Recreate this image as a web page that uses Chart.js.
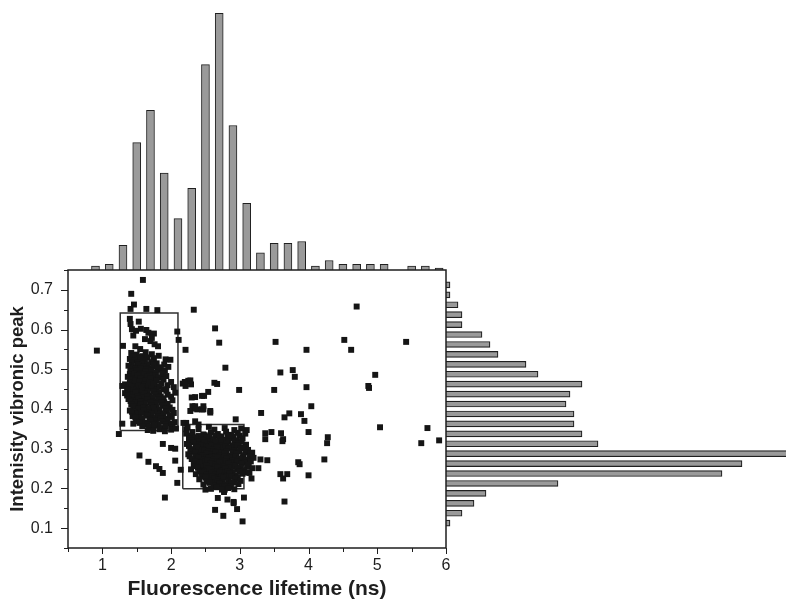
<!DOCTYPE html>
<html>
<head>
<meta charset="utf-8">
<script src="https://cdn.jsdelivr.net/npm/chart.js@4.4.1/dist/chart.umd.min.js"></script>
<style>
  html, body { margin: 0; padding: 0; background: #ffffff; }
  #wrap { position: relative; width: 786px; height: 600px; }
  #wrap canvas { position: absolute; left: 0; top: 0; }
</style>
</head>
<body>
<div id="wrap">
  <canvas id="topHist" width="786" height="600"></canvas>
  <canvas id="rightHist" width="786" height="600"></canvas>
  <canvas id="main" width="786" height="600"></canvas>
</div>
<script>
// ---------------- DATA ----------------
const xTitle = 'Fluorescence lifetime (ns)';
const yTitle = 'Intenisity vibronic peak';

// top histogram (fluorescence lifetime, bin centres in ns, counts)
const lifetimeBins   = [0.9, 1.1, 1.3, 1.5, 1.7, 1.9, 2.1, 2.3, 2.5, 2.7, 2.9, 3.1, 3.3, 3.5, 3.7, 3.9, 4.1, 4.3, 4.5, 4.7, 4.9, 5.1, 5.5, 5.7, 5.9];
const lifetimeCounts = [2,   3,   13,  67,  84,  51,  27,  43,  108, 135, 76,  35,  9,   14,  14,  15,  2,   5,   3,   3,   3,   3,   2,   2,   1];

// right histogram (intensity vibronic peak, bin centres, counts)
const intensityBins   = [0.7125, 0.6875, 0.6625, 0.6375, 0.6125, 0.5875, 0.5625, 0.5375, 0.5125, 0.4875, 0.4625, 0.4375, 0.4125, 0.3875, 0.3625, 0.3375, 0.3125, 0.2875, 0.2625, 0.2375, 0.2125, 0.1875, 0.1625, 0.1375, 0.1125];
const intensityCounts = [1, 1, 3, 4, 4, 9, 11, 13, 20, 23, 34, 31, 30, 32, 32, 34, 38, 88, 74, 69, 28, 10, 7, 4, 1];

// gating rectangles [xMin, xMax, yMin, yMax]
const gate1 = [1.26, 2.10, 0.346, 0.642];
const gate2 = [2.17, 3.06, 0.199, 0.361];

// sparse / outlying points [lifetime, intensity]
const sparsePoints = [
  [0.92,0.547],[1.59,0.725],[1.42,0.690],[1.46,0.663],[1.41,0.652],[1.64,0.652],[1.80,0.649],[2.33,0.650],
  [2.64,0.603],[2.70,0.567],[3.52,0.569],[3.97,0.549],[4.70,0.658],[4.52,0.574],[4.62,0.549],[5.42,0.569],
  [2.79,0.504],[3.59,0.492],[3.77,0.498],[3.80,0.481],[4.97,0.486],[2.63,0.466],[2.67,0.463],[2.54,0.443],
  [2.48,0.433],[2.35,0.430],[2.99,0.448],[3.50,0.448],[3.97,0.455],[4.87,0.458],[4.88,0.453],[4.04,0.407],
  [3.31,0.390],[3.65,0.379],[3.72,0.389],[3.89,0.387],[3.94,0.370],[4.00,0.342],[5.04,0.354],[5.73,0.352],
  [5.64,0.314],[5.90,0.321],[3.37,0.339],[3.46,0.342],[3.37,0.324],[3.60,0.339],[3.63,0.324],[3.62,0.319],
  [4.28,0.329],[4.27,0.314],[3.30,0.273],[3.40,0.271],[3.27,0.251],[4.23,0.273],[3.85,0.266],[3.87,0.261],
  [3.59,0.236],[3.69,0.236],[3.63,0.225],[4.00,0.233],[3.65,0.167],[2.21,0.549],[2.09,0.595],[2.11,0.574],
  [1.30,0.559],[1.54,0.283],[1.67,0.267],[1.78,0.256],[1.83,0.249],[1.88,0.239],[1.88,0.312],[2.00,0.302],
  [2.06,0.270],[2.09,0.214],[1.91,0.177],[1.24,0.337],[1.29,0.363],[1.45,0.363],[2.64,0.146],[2.76,0.131],
  [3.04,0.117],[2.96,0.148],[2.68,0.176],[2.82,0.172],[2.91,0.166],[3.06,0.177],[2.77,0.191],[3.11,0.255],
  [3.14,0.239],[3.17,0.225],[3.18,0.290],[3.10,0.347],[2.94,0.374],[2.25,0.471],[2.29,0.462],[2.17,0.464],
  [2.31,0.407],[2.38,0.399],[2.47,0.399],[2.57,0.391],[2.22,0.365],[2.22,0.349],[2.50,0.197],[2.78,0.197],
  [2.91,0.163],[2.06,0.300],[2.14,0.247],[2.28,0.395],[2.35,0.401],[2.45,0.399],[2.57,0.395],[2.20,0.468],
  [2.28,0.472],[2.21,0.458],[2.30,0.429],[2.45,0.433],[2.35,0.407],[2.47,0.407],[2.18,0.365],[2.35,0.369],
  [2.40,0.361]
];

// dense group around 1.7 ns
const cluster1Points = [
  [1.40,0.627],[1.41,0.614],[1.53,0.620],[1.43,0.601],[1.49,0.597],[1.56,0.602],[1.64,0.599],[1.67,0.592],
  [1.75,0.590],[1.72,0.579],[1.62,0.576],[1.70,0.571],[1.76,0.563],[1.81,0.558],[1.48,0.558],[1.55,0.551],
  [1.63,0.543],[1.72,0.538],[1.82,0.534],[1.92,0.525],[1.99,0.524],[1.45,0.585],
  [1.42,0.541],[1.50,0.537],[1.59,0.533],
  [1.46,0.533],[1.54,0.531],[1.66,0.530],[1.75,0.528],
  [1.40,0.526],[1.47,0.522],[1.55,0.528],[1.62,0.521],[1.71,0.518],[1.79,0.515],[1.90,0.512],
  [1.43,0.517],[1.51,0.516],[1.58,0.515],[1.66,0.512],[1.75,0.513],[1.85,0.505],
  [1.38,0.509],[1.45,0.505],[1.52,0.511],[1.60,0.507],[1.67,0.503],[1.75,0.508],[1.84,0.499],[1.96,0.506],
  [1.41,0.502],[1.48,0.501],[1.56,0.503],[1.64,0.500],[1.71,0.498],[1.80,0.502],[1.91,0.497],
  [1.41,0.494],[1.49,0.497],[1.56,0.490],[1.63,0.495],[1.70,0.488],[1.78,0.492],[1.88,0.486],
  [1.40,0.488],[1.47,0.489],[1.54,0.486],[1.61,0.488],[1.69,0.485],[1.77,0.484],[1.87,0.490],
  [1.37,0.481],[1.44,0.478],[1.51,0.484],[1.58,0.476],[1.65,0.481],[1.73,0.474],[1.82,0.479],[1.93,0.483],
  [1.41,0.475],[1.48,0.473],[1.55,0.476],[1.62,0.472],[1.70,0.477],[1.79,0.471],[1.89,0.474],
  [1.40,0.467],[1.47,0.463],[1.54,0.469],[1.61,0.461],[1.68,0.466],[1.76,0.459],[1.86,0.464],[2.00,0.468],
  [1.33,0.462],[1.40,0.460],[1.46,0.457],[1.53,0.460],[1.60,0.456],[1.67,0.458],[1.74,0.463],[1.83,0.456],[1.95,0.460],
  [1.29,0.458],[1.36,0.452],[1.43,0.455],[1.50,0.449],[1.57,0.453],[1.64,0.447],[1.71,0.452],[1.79,0.446],[1.89,0.450],[2.04,0.455],
  [1.38,0.448],[1.45,0.446],[1.52,0.444],[1.59,0.446],[1.66,0.443],[1.74,0.444],[1.83,0.442],[1.93,0.446],
  [1.33,0.440],[1.41,0.436],[1.48,0.441],[1.55,0.434],[1.62,0.439],[1.69,0.433],[1.77,0.437],[1.85,0.431],[1.95,0.436],[2.06,0.441],
  [1.36,0.434],[1.44,0.430],[1.51,0.432],[1.58,0.429],[1.66,0.431],[1.73,0.428],[1.81,0.430],[1.89,0.427],[2.00,0.431],
  [1.38,0.425],[1.45,0.421],[1.52,0.427],[1.59,0.420],[1.66,0.424],[1.74,0.418],[1.82,0.423],[1.90,0.417],[2.02,0.422],
  [1.41,0.420],[1.48,0.416],[1.55,0.418],[1.62,0.415],[1.70,0.417],[1.78,0.414],[1.86,0.416],[1.95,0.413],
  [1.42,0.411],[1.49,0.406],[1.56,0.412],[1.63,0.405],[1.71,0.409],[1.79,0.403],[1.88,0.408],[1.98,0.404],
  [1.45,0.407],[1.52,0.402],[1.60,0.404],[1.67,0.401],[1.75,0.403],[1.83,0.399],[1.92,0.401],[2.02,0.398],
  [1.40,0.396],[1.47,0.392],[1.60,0.397],[1.68,0.391],[1.76,0.395],[1.85,0.389],[1.94,0.394],[2.04,0.390],
  [1.43,0.393],[1.51,0.388],[1.57,0.390],[1.64,0.387],[1.72,0.388],[1.80,0.385],[1.89,0.387],[1.98,0.384],
  [1.44,0.382],[1.53,0.378],[1.66,0.383],[1.73,0.377],[1.81,0.381],[1.90,0.375],[2.01,0.380],
  [1.48,0.379],[1.58,0.375],[1.69,0.374],[1.77,0.372],[1.85,0.376],[1.95,0.371],
  [1.49,0.369],[1.62,0.366],[1.70,0.370],[1.78,0.364],[1.87,0.368],[1.97,0.363],[2.05,0.367],
  [1.54,0.365],[1.65,0.362],[1.74,0.361],[1.82,0.360],[1.92,0.362],[2.01,0.359],
  [1.58,0.357],[1.68,0.355],[1.76,0.358],[1.84,0.352],[1.92,0.356],[2.02,0.353],
  [1.66,0.347],[1.74,0.345],[1.83,0.349],[1.91,0.344],[2.00,0.348],[2.07,0.351]
];

// dense group around 2.7 ns
const cluster2Points = [
  [2.24,0.353],[2.40,0.349],[2.55,0.355],[2.63,0.348],[2.78,0.352],[2.92,0.347],[3.02,0.351],
  [2.22,0.338],[2.31,0.342],[2.47,0.336],[2.58,0.341],[2.68,0.337],[2.80,0.343],[2.88,0.335],[2.97,0.340],[3.08,0.338],
  [2.29,0.333],[2.40,0.332],[2.49,0.334],[2.56,0.331],[2.65,0.333],[2.73,0.331],[2.82,0.334],[2.91,0.330],[3.00,0.333],
  [2.26,0.325],[2.36,0.329],[2.44,0.323],[2.52,0.328],[2.61,0.324],[2.70,0.330],[2.77,0.322],[2.85,0.327],[2.95,0.321],[3.04,0.326],
  [2.30,0.320],[2.38,0.319],[2.47,0.320],[2.55,0.318],[2.62,0.320],[2.68,0.318],[2.75,0.320],[2.83,0.319],[2.92,0.317],[3.02,0.319],
  [2.23,0.312],[2.33,0.316],[2.41,0.310],[2.49,0.315],[2.57,0.311],[2.64,0.317],[2.72,0.309],[2.80,0.314],[2.89,0.308],[2.98,0.313],[3.09,0.310],
  [2.26,0.307],[2.36,0.306],[2.44,0.308],[2.52,0.305],[2.59,0.307],[2.66,0.306],[2.72,0.303],[2.79,0.306],[2.87,0.304],[2.96,0.307],[3.06,0.304],
  [2.28,0.299],[2.38,0.303],[2.46,0.297],[2.54,0.302],[2.61,0.298],[2.68,0.304],[2.75,0.296],[2.83,0.301],[2.92,0.295],[3.01,0.300],[3.12,0.297],
  [2.31,0.294],[2.40,0.293],[2.48,0.295],[2.55,0.292],[2.62,0.294],[2.68,0.293],[2.74,0.290],[2.81,0.294],[2.90,0.291],[2.99,0.293],[3.09,0.291],
  [2.25,0.286],[2.35,0.290],[2.43,0.284],[2.51,0.289],[2.58,0.285],[2.65,0.291],[2.71,0.283],[2.78,0.288],[2.86,0.282],[2.95,0.287],[3.05,0.284],[3.16,0.289],
  [2.27,0.281],[2.36,0.280],[2.45,0.282],[2.52,0.279],[2.59,0.281],[2.65,0.280],[2.71,0.278],[2.78,0.281],[2.85,0.279],[2.94,0.281],[3.04,0.278],[3.14,0.281],
  [2.30,0.274],[2.40,0.278],[2.48,0.272],[2.55,0.277],[2.62,0.273],[2.68,0.279],[2.74,0.271],[2.81,0.276],[2.89,0.270],[2.99,0.275],[3.10,0.272],[3.20,0.277],
  [2.36,0.269],[2.45,0.268],[2.53,0.270],[2.60,0.267],[2.67,0.269],[2.73,0.267],[2.80,0.269],[2.87,0.266],[2.96,0.268],[3.07,0.266],[3.16,0.268],
  [2.33,0.261],[2.42,0.265],[2.50,0.259],[2.57,0.264],[2.64,0.260],[2.70,0.266],[2.76,0.258],[2.83,0.263],[2.91,0.257],[3.02,0.262],[3.13,0.259],
  [2.34,0.256],[2.44,0.255],[2.51,0.257],[2.58,0.254],[2.64,0.256],[2.70,0.254],[2.77,0.256],[2.84,0.253],[2.93,0.255],[3.01,0.253],[3.11,0.255],
  [2.29,0.248],[2.39,0.252],[2.47,0.246],[2.54,0.251],[2.61,0.247],[2.67,0.253],[2.73,0.245],[2.79,0.250],[2.87,0.244],[2.96,0.249],[3.06,0.246],[3.18,0.251],
  [2.41,0.243],[2.49,0.242],[2.56,0.244],[2.62,0.241],[2.68,0.243],[2.75,0.241],[2.82,0.243],[2.90,0.240],[2.99,0.242],[3.09,0.240],
  [2.36,0.236],[2.45,0.240],[2.52,0.234],[2.59,0.239],[2.65,0.235],[2.71,0.241],[2.78,0.233],[2.85,0.238],[2.94,0.232],[3.04,0.237],
  [2.45,0.230],[2.54,0.229],[2.60,0.231],[2.67,0.228],[2.73,0.230],[2.80,0.229],[2.88,0.231],[2.97,0.228],
  [2.41,0.223],[2.50,0.227],[2.57,0.221],[2.63,0.226],[2.69,0.222],[2.76,0.228],[2.84,0.220],[2.93,0.225],[3.01,0.219],
  [2.52,0.217],[2.60,0.216],[2.67,0.218],[2.75,0.216],[2.83,0.217],[2.92,0.215],
  [2.47,0.210],[2.56,0.214],[2.64,0.208],[2.71,0.213],[2.79,0.209],[2.88,0.215],[2.98,0.211],
  [2.62,0.205],[2.70,0.204],[2.78,0.206],[2.87,0.204],
  [2.58,0.199],[2.66,0.203],[2.74,0.197],[2.83,0.201],[2.92,0.198]
];

// axis ranges and ticks
const xMin = 0.5, xMax = 6, xStep = 0.5;
const yMin = 0.05, yMax = 0.75, yStep = 0.05;

// ---------------- DRAWING ----------------
Chart.defaults.font.family = '"Liberation Sans", Arial, Helvetica, sans-serif';
Chart.defaults.color = '#1e1e1e';

const ink = '#1e1e1e';
const barFill = '#9a9a9a';
const barEdge = '#202020';

// shared plot geometry (pixels from the canvas edge)
const plotLeft = 68, plotRight = 446, plotTop = 270, plotBottom = 548;
const W = 786, H = 600;

const toXY = p => ({ x: p[0], y: p[1] });
const rectPath = g => [
  { x: g[0], y: g[2] }, { x: g[0], y: g[3] }, { x: g[1], y: g[3] }, { x: g[1], y: g[2] }, { x: g[0], y: g[2] }
];

const isMult = (v, m) => Math.abs(v / m - Math.round(v / m)) < 1e-6;

const framePlugin = {
  id: 'frameAndTicks',
  afterDraw(chart) {
    const { ctx, chartArea } = chart;
    const xs = chart.scales.x, ys = chart.scales.y;
    ctx.save();
    ctx.strokeStyle = ink;
    ctx.lineWidth = 1;
    ctx.beginPath();
    xs.ticks.forEach(t => {
      const px = Math.round(xs.getPixelForValue(t.value)) + 0.5;
      const len = isMult(t.value, 1) ? 6 : 4;
      ctx.moveTo(px, chartArea.bottom);
      ctx.lineTo(px, chartArea.bottom + len);
    });
    ys.ticks.forEach(t => {
      const py = Math.round(ys.getPixelForValue(t.value)) + 0.5;
      const len = isMult(t.value, 0.1) ? 7 : 4;
      ctx.moveTo(chartArea.left, py);
      ctx.lineTo(chartArea.left - len, py);
    });
    ctx.stroke();
    ctx.lineWidth = 1.5;
    ctx.strokeRect(chartArea.left, chartArea.top, chartArea.right - chartArea.left, chartArea.bottom - chartArea.top);
    ctx.restore();
  }
};

const allPoints = sparsePoints.concat(cluster1Points, cluster2Points).map(toXY);

new Chart(document.getElementById('main'), {
  type: 'scatter',
  data: {
    datasets: [
      {
        data: allPoints,
        pointStyle: 'rect',
        pointRadius: 4.2,
        pointHoverRadius: 4.2,
        backgroundColor: '#151515',
        borderWidth: 0
      },
      {
        type: 'line',
        data: rectPath(gate1),
        showLine: true,
        borderColor: '#303030',
        borderWidth: 1.5,
        pointRadius: 0,
        fill: false,
        tension: 0
      },
      {
        type: 'line',
        data: rectPath(gate2),
        showLine: true,
        borderColor: '#303030',
        borderWidth: 1.5,
        pointRadius: 0,
        fill: false,
        tension: 0
      }
    ]
  },
  options: {
    responsive: false,
    animation: false,
    events: [],
    layout: { padding: { left: 0, top: plotTop, right: W - plotRight, bottom: 0 } },
    plugins: { legend: { display: false }, tooltip: { enabled: false } },
    scales: {
      x: {
        type: 'linear', min: xMin, max: xMax,
        afterFit: s => { s.height = H - plotBottom; },
        ticks: {
          stepSize: xStep, autoSkip: false, maxRotation: 0, padding: 2,
          font: { size: 16 }, color: ink,
          callback: v => isMult(v, 1) ? String(Math.round(v)) : ''
        },
        grid: { drawOnChartArea: false, drawTicks: true, tickLength: 6, tickColor: 'rgba(0,0,0,0)' },
        border: { display: false },
        title: { display: true, text: xTitle, color: ink, font: { size: 21, weight: 'bold', lineHeight: 1.05 }, padding: { top: 0, bottom: 0 } }
      },
      y: {
        type: 'linear', min: yMin, max: yMax,
        afterFit: s => { s.width = plotLeft; },
        ticks: {
          stepSize: yStep, autoSkip: false, padding: 8,
          font: { size: 16 }, color: ink,
          callback: v => isMult(v, 0.1) ? v.toFixed(1) : ''
        },
        grid: { drawOnChartArea: false, drawTicks: true, tickLength: 7, tickColor: 'rgba(0,0,0,0)' },
        border: { display: false },
        title: { display: true, text: yTitle, color: ink, font: { size: 18.5, weight: 'bold', lineHeight: 1.2 }, padding: { top: 7, bottom: 0 } }
      }
    }
  },
  plugins: [framePlugin]
});

// top histogram
new Chart(document.getElementById('topHist'), {
  type: 'bar',
  data: {
    datasets: [{
      data: lifetimeBins.map((b, i) => ({ x: b, y: lifetimeCounts[i] })),
      backgroundColor: barFill,
      borderColor: barEdge,
      borderWidth: 1,
      barThickness: 8
    }]
  },
  options: {
    responsive: false,
    animation: false,
    events: [],
    layout: { padding: { left: plotLeft, right: W - plotRight, top: 0, bottom: H - plotTop } },
    plugins: { legend: { display: false }, tooltip: { enabled: false } },
    scales: {
      x: { type: 'linear', min: xMin, max: xMax, offset: false, display: false },
      y: { type: 'linear', min: 0, max: 142, display: false }
    }
  }
});

// right histogram
new Chart(document.getElementById('rightHist'), {
  type: 'bar',
  data: {
    datasets: [{
      data: intensityBins.map((b, i) => ({ y: b, x: intensityCounts[i] })),
      backgroundColor: barFill,
      borderColor: barEdge,
      borderWidth: 1.2,
      barThickness: 6
    }]
  },
  options: {
    indexAxis: 'y',
    responsive: false,
    animation: false,
    events: [],
    layout: { padding: { left: plotRight, right: 0, top: plotTop, bottom: H - plotBottom } },
    plugins: { legend: { display: false }, tooltip: { enabled: false } },
    scales: {
      x: { type: 'linear', min: 0, max: 85, display: false },
      y: { type: 'linear', min: yMin, max: yMax, offset: false, display: false }
    }
  }
});
</script>
</body>
</html>
